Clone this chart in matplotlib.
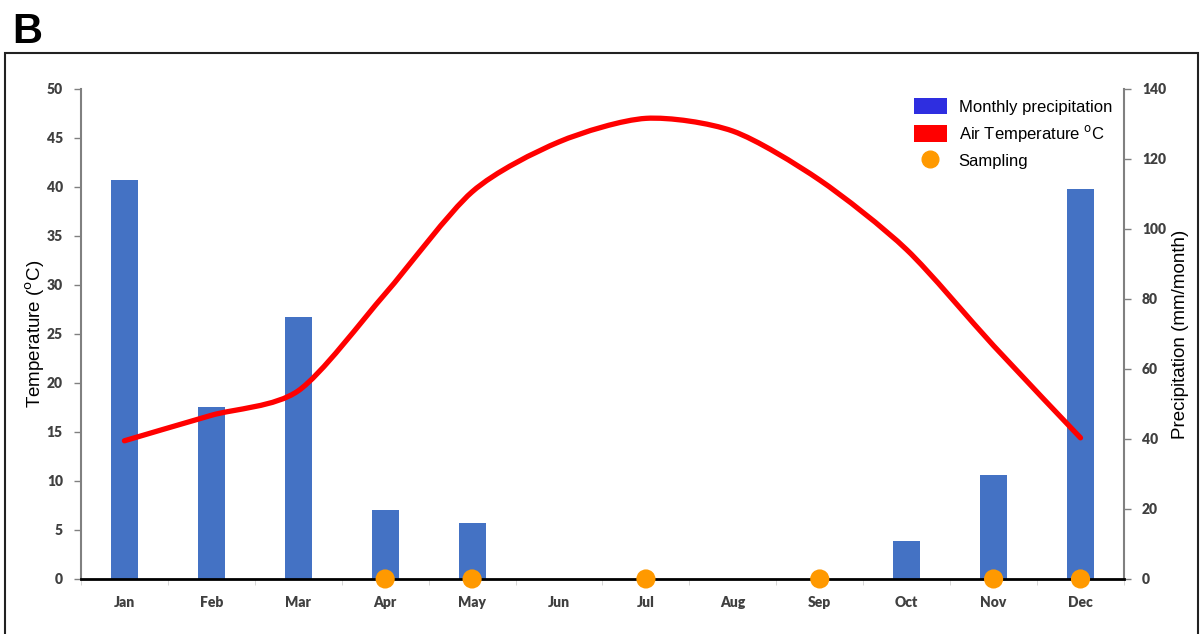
import matplotlib
matplotlib.use("Agg")
import matplotlib.pyplot as plt
from matplotlib.path import Path
from matplotlib.patches import PathPatch, Patch, Rectangle
from matplotlib.lines import Line2D
import numpy as np

months = ['Jan', 'Feb', 'Mar', 'Apr', 'May', 'Jun', 'Jul', 'Aug', 'Sep', 'Oct', 'Nov', 'Dec']
precip = [114.0, 49.0, 74.8, 19.6, 16.0, 0, 0, 0, 0, 10.9, 29.6, 111.4]   # mm/month
temp = [14.1, 16.7, 19.2, 29.1, 39.5, 44.6, 47.0, 45.7, 40.7, 33.6, 23.8, 14.4]  # degC
sampling = ['Apr', 'May', 'Jul', 'Sep', 'Nov', 'Dec']

plt.rcParams['font.family'] = ['Liberation Sans', 'DejaVu Sans']
tick_font = dict(family='Lato', weight='heavy', size=10, color='#404040')


def smooth_path(x, y, t=0.4):
    # catmull-rom style bezier through the monthly points
    x = np.asarray(x, float)
    y = np.asarray(y, float)
    verts = [(x[0], y[0])]
    codes = [Path.MOVETO]
    n = len(x)
    for i in range(n - 1):
        p0 = (x[max(i - 1, 0)], y[max(i - 1, 0)])
        p1 = (x[i], y[i])
        p2 = (x[i + 1], y[i + 1])
        p3 = (x[min(i + 2, n - 1)], y[min(i + 2, n - 1)])
        c1 = (p1[0] + (p2[0] - p0[0]) * t / 3, p1[1] + (p2[1] - p0[1]) * t / 3)
        c2 = (p2[0] - (p3[0] - p1[0]) * t / 3, p2[1] - (p3[1] - p1[1]) * t / 3)
        verts += [c1, c2, p2]
        codes += [Path.CURVE4] * 3
    return Path(verts, codes)


fig = plt.figure(figsize=(12.03, 6.34), dpi=100)
ax = fig.add_axes([0.0673, 0.0868, 0.867, 0.7729])
ax2 = ax.twinx()
xs = np.arange(len(months))

# precipitation bars (right axis)
ax.bar(xs, precip, width=0.31, color='#4472C4', zorder=2)
ax.set_ylim(0, 140)
ax.set_yticks(np.arange(0, 141, 20))
ax.yaxis.tick_right()
ax.yaxis.set_label_position('right')
ax.set_ylabel('Precipitation (mm/month)', fontsize=13.5, labelpad=4)
ax.set_xlim(-0.5, 11.5)
ax.set_xticks(xs)
ax.set_xticklabels(months)
ax.set_xticks(np.arange(-0.5, 12, 1), minor=True)
ax.tick_params(axis='x', which='major', length=0, pad=12)
ax.tick_params(axis='x', which='minor', length=4, color='#d0d0d0')
ax.tick_params(axis='y', length=5, color='#808080', width=1, pad=8)
for lab in ax.get_xticklabels() + ax.get_yticklabels():
    lab.set(**tick_font)
for s in ['top', 'left', 'bottom']:
    ax.spines[s].set_visible(False)
ax.spines['right'].set_color('#808080')
ax.spines['right'].set_linewidth(1.5)

# temperature (left axis)
ax2.set_ylim(0, 50)
ax2.set_yticks(np.arange(0, 51, 5))
ax2.yaxis.tick_left()
ax2.yaxis.set_label_position('left')
ax2.set_ylabel('Temperature ($^{\\rm o}$C)', fontsize=13.5, labelpad=0)
ax2.tick_params(axis='y', length=5, color='#808080', width=1, pad=8)
for lab in ax2.get_yticklabels():
    lab.set(**tick_font)
for s in ['top', 'right']:
    ax2.spines[s].set_visible(False)
ax2.spines['left'].set_color('#808080')
ax2.spines['left'].set_linewidth(1.5)
ax2.spines['bottom'].set_color('black')
ax2.spines['bottom'].set_linewidth(2)

ax2.add_patch(PathPatch(smooth_path(xs, temp), facecolor='none', edgecolor='#FF0000',
                        lw=3.8, capstyle='round', joinstyle='round', zorder=3))

samp_x = [months.index(m) for m in sampling]
ax2.scatter(samp_x, [0] * len(samp_x), s=190, color='#FF9900', zorder=5, clip_on=False,
            edgecolors='none')

handles = [Patch(facecolor='#2E2EE0', edgecolor='none'),
           Patch(facecolor='#FF0000', edgecolor='none'),
           Line2D([], [], ls='none', marker='o', markersize=12, color='#FF9900')]
fig.legend(handles, ['Monthly precipitation', 'Air Temperature $^{\\rm o}$C', 'Sampling'],
           loc='upper left', bbox_to_anchor=(902 / 1203, 1 - 86 / 634), frameon=False,
           fontsize=12, handlelength=2.0, handleheight=1.15, handletextpad=0.7,
           labelspacing=0.5, borderpad=0.2)

# panel letter and frame
fig.text(12 / 1203, 1 - 43 / 634, 'B', fontsize=30, fontweight='bold')
fig.add_artist(Rectangle((5 / 1203, -0.05), 1193 / 1203, 0.05 + 1 - 53 / 634,
                         transform=fig.transFigure, fill=False, lw=1.5, ec='#222222'))

fig.savefig('out.png', dpi=100)
